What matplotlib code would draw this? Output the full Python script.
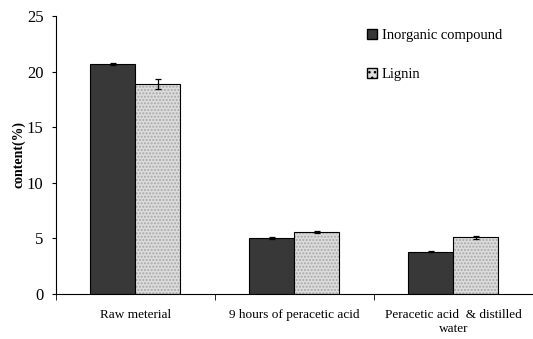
import matplotlib.pyplot as plt
import numpy as np

categories = ['Raw meterial', '9 hours of peracetic acid', 'Peracetic acid  & distilled\nwater']
inorganic = [20.7, 5.0, 3.8]
inorganic_err = [0.1, 0.1, 0.05]
lignin = [18.9, 5.6, 5.1]
lignin_err = [0.45, 0.1, 0.12]

plt.rcParams['font.family'] = ['Liberation Serif', 'DejaVu Serif']

fig = plt.figure(figsize=(5.33, 3.39), dpi=100)
ax = fig.add_axes([0.105, 0.133, 0.895, 0.82])

x = np.arange(len(categories))
w = 0.283
ekw = dict(elinewidth=0.9, capthick=0.9)
ax.bar(x - w / 2, inorganic, w, color='#383838', edgecolor='black', linewidth=0.8,
       yerr=inorganic_err, capsize=2, error_kw=ekw, label='Inorganic compound', zorder=2)
# dotted light fill for lignin, then outline on top
ax.bar(x + w / 2, lignin, w, color='#dcdcdc', edgecolor='#a8a8a8', hatch='.....',
       linewidth=0, zorder=2)
ax.bar(x + w / 2, lignin, w, color='none', edgecolor='black', linewidth=0.8,
       yerr=lignin_err, capsize=2, error_kw=ekw, label='Lignin', zorder=3)

ax.set_xlim(-0.5, 2.5)
ax.set_ylim(0, 25)
ax.set_yticks([0, 5, 10, 15, 20, 25])
ax.set_xticks(x)
ax.set_xticklabels(categories, fontsize=9.5)
ax.set_xticks([-0.5, 0.5, 1.5, 2.5], minor=True)
ax.tick_params(axis='x', which='major', length=0, pad=11)
ax.tick_params(axis='x', which='minor', length=4, direction='out')
ax.tick_params(axis='y', labelsize=12, length=3, direction='out', pad=6)
ax.spines['top'].set_visible(False)
ax.spines['right'].set_visible(False)
ax.set_ylabel('content(%)', fontweight='bold', fontsize=10, labelpad=1)

# legend with small square markers
h1 = plt.Rectangle((0, 0), 1, 1, facecolor='#383838', edgecolor='black')
h2 = plt.Rectangle((0, 0), 1, 1, facecolor='#dcdcdc', edgecolor='black', hatch='...')
ax.legend([h1, h2], ['Inorganic compound', 'Lignin'], loc='upper left',
          bbox_to_anchor=(0.625, 1.0), frameon=False, fontsize=10.5,
          handlelength=0.7, handleheight=0.7, handletextpad=0.3, labelspacing=1.75)

fig.savefig('out.png', dpi=100)
